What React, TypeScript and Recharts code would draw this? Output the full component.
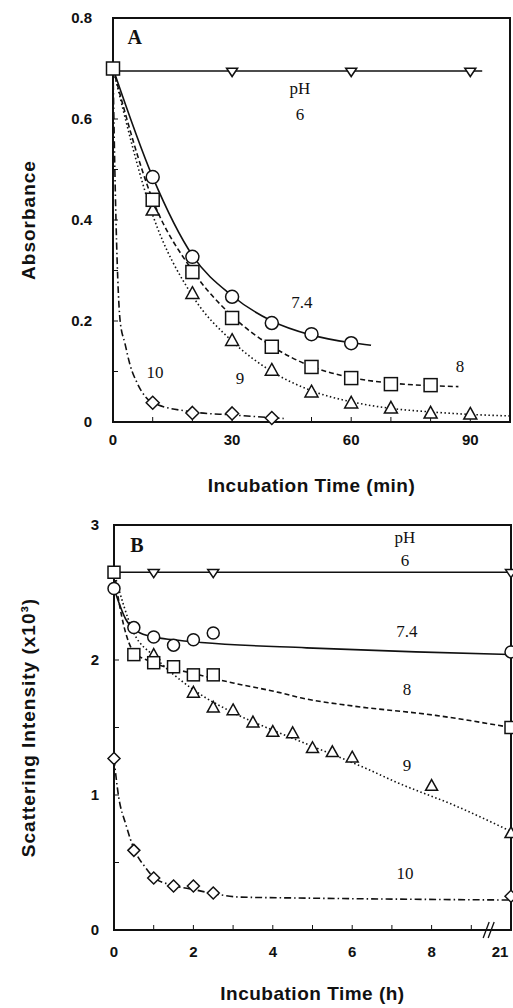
import React from "react";
import { ComposedChart, Line, XAxis, YAxis, ReferenceArea, ReferenceDot } from "recharts";

type Pt = [number, number];
type Kind = "circle" | "square" | "triangle" | "down" | "diamond";

const INK = "#111";
const SANS = "'Liberation Sans', Arial, sans-serif";
const SERIF = "'Liberation Serif', 'Times New Roman', serif";

// ---- Panel A: absorbance vs incubation time (min) ----
const aTicksX = [0, 10, 20, 30, 40, 50, 60, 70, 80, 90, 100];
const aLabelsX = [0, 30, 60, 90];
const aTicksY = [0, 0.1, 0.2, 0.3, 0.4, 0.5, 0.6, 0.7, 0.8];
const aLabelsY = [0, 0.2, 0.4, 0.6, 0.8];

const a6Marks: Pt[] = [[30, 0.695], [60, 0.695], [90, 0.695]];
const a6Curve: Pt[] = [[0, 0.695], [93, 0.695]];
const a74Marks: Pt[] = [[10, 0.485], [20, 0.327], [30, 0.248], [40, 0.196], [50, 0.174], [60, 0.156]];
const a74Curve: Pt[] = [[0, 0.7], [10, 0.485], [20, 0.33], [30, 0.25], [40, 0.2], [50, 0.172], [60, 0.157], [65, 0.152]];
const a8Marks: Pt[] = [[0, 0.7], [10, 0.44], [20, 0.297], [30, 0.206], [40, 0.149], [50, 0.109], [60, 0.087], [70, 0.075], [80, 0.073]];
const a8Curve: Pt[] = [[0, 0.7], [10, 0.44], [20, 0.3], [30, 0.21], [40, 0.15], [50, 0.11], [60, 0.088], [70, 0.077], [80, 0.072], [87, 0.07]];
const a9Marks: Pt[] = [[10, 0.42], [20, 0.255], [30, 0.162], [40, 0.103], [50, 0.06], [60, 0.038], [70, 0.028], [80, 0.018], [90, 0.016]];
const a9Curve: Pt[] = [[0, 0.7], [10, 0.41], [20, 0.25], [30, 0.16], [40, 0.1], [50, 0.062], [60, 0.04], [70, 0.027], [80, 0.02], [90, 0.015], [100, 0.012]];
const a10Marks: Pt[] = [[10, 0.038], [20, 0.018], [30, 0.017], [40, 0.008]];
const a10Curve: Pt[] = [[0, 0.7], [0.6, 0.45], [1.8, 0.2], [3, 0.156], [4.3, 0.113], [6.1, 0.077], [10, 0.038], [20, 0.02], [30, 0.014], [43, 0.007]];

// ---- Panel B: scattering intensity vs incubation time (h), axis broken between 9 and 21 h ----
const bTicksX = [0, 1, 2, 3, 4, 5, 6, 7, 8, 9, 10];
const bTicksY = [0, 0.5, 1, 1.5, 2, 2.5, 3];
const LAST_HOUR = 21;
const BREAK_POS = 10;

const b6Marks: Pt[] = [[1, 2.65], [2.5, 2.65], [21, 2.65]];
const b6Curve: Pt[] = [[0, 2.65], [21, 2.65]];
const b74Marks: Pt[] = [[0, 2.53], [0.5, 2.24], [1, 2.17], [1.5, 2.11], [2, 2.15], [2.5, 2.2], [21, 2.06]];
const b74Curve: Pt[] = [[0, 2.53], [0.3, 2.3], [0.6, 2.21], [1, 2.17], [1.5, 2.15], [2.2, 2.13], [4.85, 2.09], [7.6, 2.06], [21, 2.04]];
const b8Marks: Pt[] = [[0, 2.65], [0.5, 2.04], [1, 1.98], [1.5, 1.95], [2, 1.89], [2.5, 1.89], [21, 1.5]];
const b8Curve: Pt[] = [[0, 2.65], [0.25, 2.25], [0.5, 2.06], [1, 1.98], [2, 1.9], [3, 1.83], [4.15, 1.76], [4.7, 1.72], [6, 1.66], [8.1, 1.59], [21, 1.5]];
const b9Marks: Pt[] = [[1, 2.04], [2, 1.76], [2.5, 1.65], [3, 1.63], [3.5, 1.54], [4, 1.47], [4.5, 1.46], [5, 1.35], [5.5, 1.32], [6, 1.28], [8, 1.07], [21, 0.72]];
const b9Curve: Pt[] = [[0, 2.65], [0.5, 2.2], [1, 2.03], [2, 1.78], [3, 1.61], [4, 1.48], [5, 1.36], [6.4, 1.19], [7.07, 1.1], [8.68, 0.91], [21, 0.73]];
const b10Marks: Pt[] = [[0, 1.27], [0.5, 0.59], [1, 0.385], [1.5, 0.326], [2, 0.326], [2.5, 0.274], [21, 0.25]];
const b10Curve: Pt[] = [[0, 1.27], [0.11, 1.0], [0.3, 0.78], [0.52, 0.59], [0.8, 0.46], [1, 0.39], [1.5, 0.33], [2, 0.3], [2.5, 0.27], [3.15, 0.244], [4.65, 0.237], [21, 0.222]];

const hourPos = (t: number) => (t === LAST_HOUR ? BREAK_POS : t);
const rows = (pts: Pt[], pos = (t: number) => t) => pts.map(([t, v]) => ({ t: pos(t), v }));

const tickFont = { fill: INK, fontSize: 15, fontWeight: 700, fontFamily: SANS };

function Marker({ cx, cy, kind, size }: { cx: number; cy: number; kind: Kind; size: number }) {
  if (cx == null || cy == null) return null;
  const s = size / 2;
  const common = { fill: "#fff", stroke: INK, strokeWidth: 1.5 };
  if (kind === "circle") return <circle cx={cx} cy={cy} r={s} {...common} />;
  if (kind === "square") return <rect x={cx - s} y={cy - s} width={size} height={size} {...common} />;
  if (kind === "triangle")
    return <polygon points={`${cx},${cy - s} ${cx + s},${cy + s * 0.8} ${cx - s},${cy + s * 0.8}`} {...common} />;
  if (kind === "down")
    return <polygon points={`${cx - s},${cy - s * 0.5} ${cx + s},${cy - s * 0.5} ${cx},${cy + s}`} {...common} />;
  return <polygon points={`${cx},${cy - s} ${cx + s},${cy} ${cx},${cy + s} ${cx - s},${cy}`} {...common} />;
}

const dotOf = (kind: Kind, size: number) => (p: any) =>
  <Marker key={`${kind}-${p.index}`} cx={p.cx} cy={p.cy} kind={kind} size={size} />;

function XTitle({ viewBox, text }: any) {
  const vb = viewBox ?? { x: 0, y: 0, width: 0, height: 0 };
  return (
    <text x={vb.x + vb.width / 2} y={vb.y + vb.height - 8} textAnchor="middle" fill={INK}
      fontSize={19} fontWeight={700} fontFamily={SANS} letterSpacing={0.5}>
      {text}
    </text>
  );
}

function YTitle({ viewBox, text }: any) {
  const vb = viewBox ?? { x: 0, y: 0, width: 0, height: 0 };
  const cx = vb.x + 28;
  const cy = vb.y + vb.height / 2;
  return (
    <text x={cx} y={cy} transform={`rotate(-90 ${cx} ${cy})`} textAnchor="middle" dominantBaseline="central"
      fill={INK} fontSize={19} fontWeight={700} fontFamily={SANS} letterSpacing={1}>
      {text}
    </text>
  );
}

function Note({ viewBox, text, bold }: any) {
  const vb = viewBox ?? { x: 0, y: 0, width: 0, height: 0 };
  return (
    <text x={vb.x + vb.width / 2} y={vb.y + vb.height / 2} textAnchor="middle" dominantBaseline="central"
      fill={INK} fontSize={bold ? 20 : 17} fontWeight={bold ? 700 : 400} fontFamily={SERIF}>
      {text}
    </text>
  );
}

function BTick({ x, y, payload }: any) {
  const v = payload.value;
  const text = v === BREAK_POS ? String(LAST_HOUR) : v % 2 === 0 ? String(v) : "";
  return (
    <text x={v === BREAK_POS ? x - 11 : x} y={y} dy="0.71em" textAnchor="middle" {...tickFont}>
      {text}
    </text>
  );
}

function BreakMark({ cx, cy }: any) {
  return (
    <g stroke={INK} strokeWidth={1.3}>
      <line x1={cx - 6} y1={cy + 8} x2={cx} y2={cy - 8} />
      <line x1={cx - 1} y1={cy + 8} x2={cx + 5} y2={cy - 8} />
    </g>
  );
}

const curveLine = (key: string, data: any[], dash?: string) => (
  <Line key={key} data={data} dataKey="v" type="monotone" stroke={INK} strokeWidth={1.6}
    strokeDasharray={dash} dot={false} activeDot={false} isAnimationActive={false} legendType="none" />
);
const markLine = (key: string, data: any[], kind: Kind, size: number) => (
  <Line key={key} data={data} dataKey="v" stroke="none" dot={dotOf(kind, size)} activeDot={false}
    isAnimationActive={false} legendType="none" />
);
const note = (key: string, x: number, y: number, text: string, bold = false) => (
  <ReferenceDot key={key} x={x} y={y} r={0} fill="none" stroke="none" label={<Note text={text} bold={bold} />} />
);

const DASH = "5 3";
const DOT = "1.5 2.5";
const DASHDOT = "7 3 1.5 3";

function PanelA() {
  return (
    <ComposedChart width={513} height={500} margin={{ top: 18, right: 3, left: 0, bottom: 0 }}>
      <XAxis type="number" dataKey="t" domain={[0, 100]} ticks={aTicksX} interval={0} height={78}
        tickFormatter={(v: number) => (aLabelsX.includes(v) ? String(v) : "")}
        tickSize={-5} tickMargin={17} axisLine={false} stroke={INK} tick={tickFont}
        label={<XTitle text="Incubation Time (min)" />} />
      <YAxis type="number" domain={[0, 0.8]} ticks={aTicksY} interval={0} width={113}
        tickFormatter={(v: number) => (aLabelsY.some((l) => Math.abs(l - v) < 1e-6) ? (v === 0 ? "0" : v.toFixed(1)) : "")}
        tickSize={-5} tickMargin={26} axisLine={false} stroke={INK} tick={tickFont}
        label={<YTitle text="Absorbance" />} />
      <ReferenceArea x1={0} x2={100} y1={0} y2={0.8} fill="none" stroke={INK} strokeWidth={2} />
      {curveLine("c6", rows(a6Curve))}
      {curveLine("c74", rows(a74Curve))}
      {curveLine("c8", rows(a8Curve), DASH)}
      {curveLine("c9", rows(a9Curve), DOT)}
      {curveLine("c10", rows(a10Curve), DASHDOT)}
      {markLine("m6", rows(a6Marks), "down", 11)}
      {markLine("m74", rows(a74Marks), "circle", 13)}
      {markLine("m9", rows(a9Marks), "triangle", 13)}
      {markLine("m10", rows(a10Marks), "diamond", 13)}
      {markLine("m8", rows(a8Marks), "square", 13)}
      {note("nA", 5.5, 0.762, "A", true)}
      {note("nPH", 47.1, 0.661, "pH")}
      {note("n6", 47.1, 0.608, "6")}
      {note("n74", 47.6, 0.236, "7.4")}
      {note("n8", 87.4, 0.109, "8")}
      {note("n9", 32, 0.087, "9")}
      {note("n10", 10.6, 0.099, "10")}
    </ComposedChart>
  );
}

function PanelB() {
  return (
    <ComposedChart width={513} height={508} margin={{ top: 25, right: 2, left: 0, bottom: 0 }}>
      <XAxis type="number" dataKey="t" domain={[0, BREAK_POS]} ticks={bTicksX} interval={0} height={78}
        tickSize={-5} tickMargin={21} axisLine={false} stroke={INK} tick={<BTick />}
        label={<XTitle text="Incubation Time (h)" />} />
      <YAxis type="number" domain={[0, 3]} ticks={bTicksY} interval={0} width={114}
        tickFormatter={(v: number) => (Number.isInteger(v) ? String(v) : "")}
        tickSize={-5} tickMargin={20} axisLine={false} stroke={INK} tick={tickFont}
        label={<YTitle text="Scattering Intensity (x10³)" />} />
      <ReferenceArea x1={0} x2={BREAK_POS} y1={0} y2={3} fill="none" stroke={INK} strokeWidth={2} />
      {curveLine("c6", rows(b6Curve, hourPos))}
      {curveLine("c74", rows(b74Curve, hourPos))}
      {curveLine("c8", rows(b8Curve, hourPos), DASH)}
      {curveLine("c9", rows(b9Curve, hourPos), DOT)}
      {curveLine("c10", rows(b10Curve, hourPos), DASHDOT)}
      {markLine("m6", rows(b6Marks, hourPos), "down", 11)}
      {markLine("m9", rows(b9Marks, hourPos), "triangle", 12)}
      {markLine("m10", rows(b10Marks, hourPos), "diamond", 12)}
      {markLine("m74", rows(b74Marks, hourPos), "circle", 12)}
      {markLine("m8", rows(b8Marks, hourPos), "square", 12)}
      <ReferenceDot x={9.45} y={0} r={0} shape={(p: any) => <BreakMark cx={p.cx} cy={p.cy} />} />
      {note("nB", 0.58, 2.85, "B", true)}
      {note("nPH", 7.33, 2.91, "pH")}
      {note("n6", 7.33, 2.74, "6")}
      {note("n74", 7.38, 2.21, "7.4")}
      {note("n8", 7.38, 1.78, "8")}
      {note("n9", 7.38, 1.22, "9")}
      {note("n10", 7.33, 0.42, "10")}
    </ComposedChart>
  );
}

export default function App() {
  return (
    <div style={{ position: "absolute", left: 0, top: 0, width: 513, height: 1008, background: "#fff" }}>
      <PanelA />
      <PanelB />
    </div>
  );
}
